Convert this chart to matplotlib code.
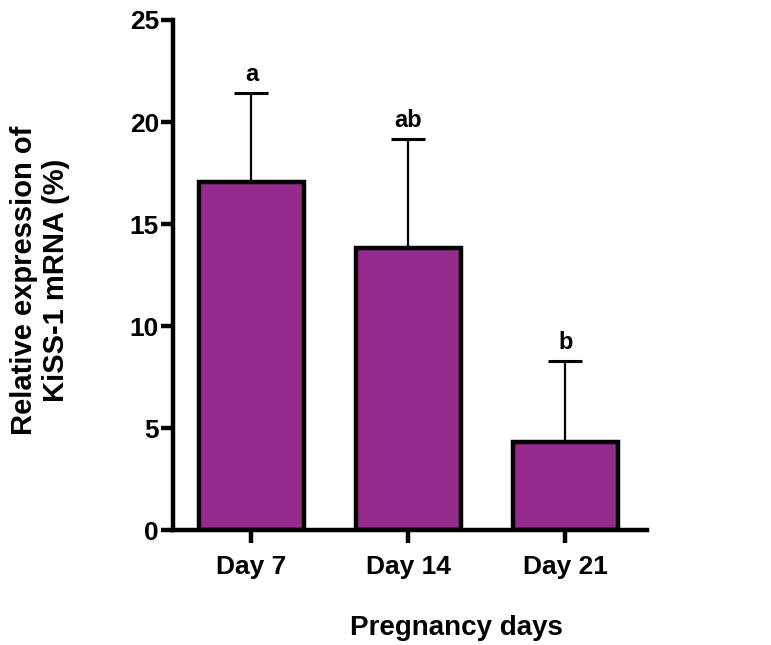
import numpy as np
import matplotlib.pyplot as plt

plt.rcParams['font.family'] = ['Liberation Sans', 'DejaVu Sans']
plt.rcParams['font.weight'] = 'bold'

# Data
days = ['Day 7', 'Day 14', 'Day 21']
means = [17.05, 13.85, 4.3]
errs = [4.35, 5.3, 4.0]
letters = ['a', 'ab', 'b']

fig = plt.figure(figsize=(7.71, 6.45), dpi=100)
ax = fig.add_axes([0.2244, 0.178, 0.6148, 0.791])

x = np.arange(len(days))
ax.bar(x, means, width=0.67, color='#952B8D', edgecolor='black', linewidth=3.2, zorder=2)
ax.errorbar(x, means, yerr=[np.zeros(len(errs)), errs], fmt='none', ecolor='black',
            elinewidth=1.6, capsize=12, capthick=2.2, zorder=1)

for xi, m, e, lab in zip(x, means, errs, letters):
    ax.text(xi, m + e + 0.35, lab, ha='center', va='bottom', fontsize=17, fontweight='bold')

ax.set_xlim(-0.5, 2.52)
ax.set_ylim(0, 25)
ax.set_yticks([0, 5, 10, 15, 20, 25])
ax.set_xticks(x)
ax.set_xticklabels(days)

for s in ['top', 'right']:
    ax.spines[s].set_visible(False)
for s in ['left', 'bottom']:
    ax.spines[s].set_linewidth(3.2)
ax.tick_params(axis='both', width=3.2, length=9)
ax.tick_params(axis='y', labelsize=19, pad=1)
ax.tick_params(axis='x', labelsize=19, pad=9)

fig.text(456 / 771, 1 - 628 / 645, 'Pregnancy days', ha='center', va='center',
         fontsize=20, fontweight='bold')
fig.text(40 / 771, 1 - 280 / 645, 'Relative expression of\nKiSS-1 mRNA (%)', ha='center',
         va='center', rotation=90, fontsize=21, fontweight='bold', linespacing=1.15)

plt.savefig('out.png', dpi=100)
